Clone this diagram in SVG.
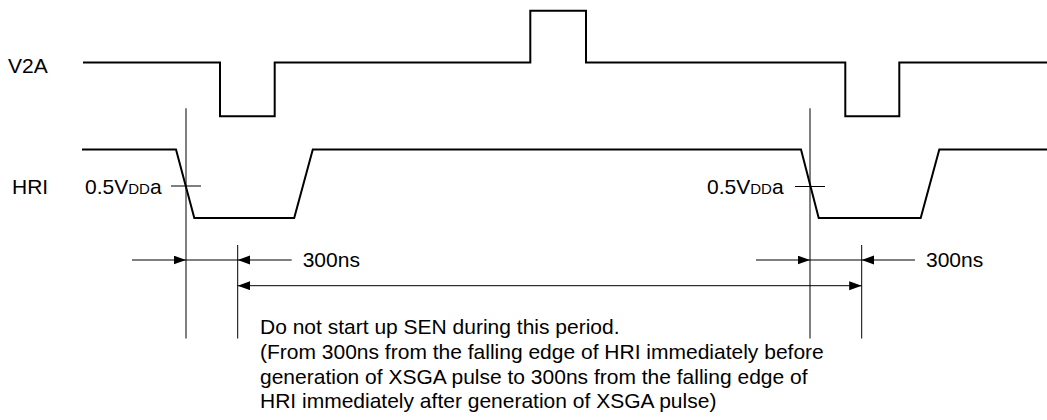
<svg xmlns="http://www.w3.org/2000/svg" width="1047" height="420" viewBox="0 0 1047 420">
<style>
.wave{fill:none;stroke:#000;stroke-width:2;stroke-linejoin:miter}
.thin{fill:none;stroke:#000;stroke-width:1}
.lbl{font-family:"Liberation Sans",Arial,sans-serif;font-size:21px;fill:#000}
.sub{font-size:15px}
</style>
<defs>
<marker id="ah" markerUnits="userSpaceOnUse" markerWidth="13" markerHeight="10" refX="12.5" refY="4.5" orient="auto">
<path d="M0,0 L12.5,4.5 L0,9 z" fill="#000"/>
</marker>
</defs>
<rect width="1047" height="420" fill="#fff"/>
<g id="v2a">
<text class="lbl" x="8" y="73">V2A</text>
<polyline class="wave" points="83,62.5 220,62.5 220,116.3 274.7,116.3 274.7,62.5 530.3,62.5 530.3,10.7 586,10.7 586,62.5 845.3,62.5 845.3,116.3 899.3,116.3 899.3,62.5 1047,62.5"/>
</g>
<g id="hri">
<text class="lbl" x="12" y="194.3">HRI</text>
<polyline class="wave" points="82,149.5 176,149.5 194.3,218 294.2,218 312.8,149.5 801,149.5 818.7,218 920.7,218 939.3,149.5 1047,149.5"/>
</g>
<g id="vdd-left">
<text class="lbl" x="85" y="194.3">0.5V<tspan class="sub">DD</tspan>a</text>
<line class="thin" x1="171" y1="186" x2="201" y2="186"/>
</g>
<g id="vdd-right">
<text class="lbl" x="707" y="194.3">0.5V<tspan class="sub">DD</tspan>a</text>
<line class="thin" x1="795" y1="186.5" x2="825" y2="186.5"/>
</g>
<g id="guides">
<line class="thin" x1="186" y1="108.3" x2="186" y2="338.5"/>
<line class="thin" x1="237.7" y1="245" x2="237.7" y2="338.5"/>
<line class="thin" x1="810" y1="108.3" x2="810" y2="338.5"/>
<line class="thin" x1="861.7" y1="245" x2="861.7" y2="338.5"/>
</g>
<g id="connectors">
<line class="thin" x1="132" y1="260" x2="186" y2="260" marker-end="url(#ah)"/>
<line class="thin" x1="186" y1="260" x2="237.7" y2="260"/>
<line class="thin" x1="291.7" y1="260" x2="237.7" y2="260" marker-end="url(#ah)"/>
<line class="thin" x1="756" y1="260" x2="810" y2="260" marker-end="url(#ah)"/>
<line class="thin" x1="810" y1="260" x2="861.7" y2="260"/>
<line class="thin" x1="915" y1="260" x2="861.7" y2="260" marker-end="url(#ah)"/>
<line class="thin" x1="300" y1="285.7" x2="237.7" y2="285.7" marker-end="url(#ah)"/>
<line class="thin" x1="300" y1="285.7" x2="861.7" y2="285.7" marker-end="url(#ah)"/>
</g>
<g id="dim-labels">
<text class="lbl" x="302.7" y="266.7">300ns</text>
<text class="lbl" x="926" y="266.7">300ns</text>
</g>
<g id="note">
<text class="lbl" x="260" y="334.4">Do not start up SEN during this period.</text>
<text class="lbl" x="260" y="359">(From 300ns from the falling edge of HRI immediately before</text>
<text class="lbl" x="260" y="383.6">generation of XSGA pulse to 300ns from the falling edge of</text>
<text class="lbl" x="260" y="408">HRI immediately after generation of XSGA pulse)</text>
</g>
</svg>
